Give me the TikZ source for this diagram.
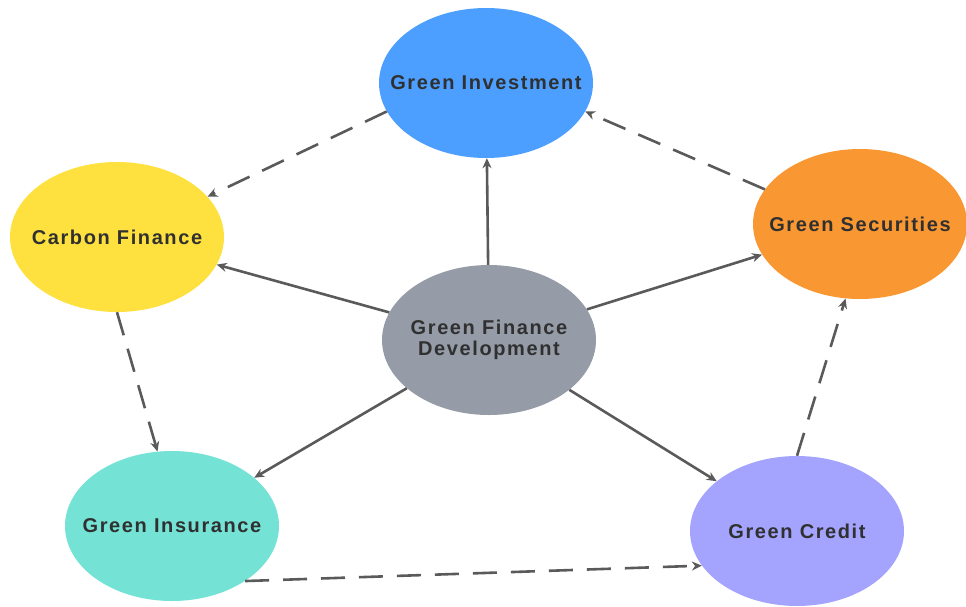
\documentclass[tikz,border=0pt]{standalone}
\usepackage{fontspec}
\newfontfamily\lblfont{Liberation Sans}[LetterSpace=8]
\usetikzlibrary{shapes.geometric}
\usetikzlibrary{arrows.meta}
\definecolor{investblue}{HTML}{4C9FFF}
\definecolor{carbonyellow}{HTML}{FEE03F}
\definecolor{securorange}{HTML}{F99732}
\definecolor{centergray}{HTML}{959CA8}
\definecolor{insurteal}{HTML}{74E3D6}
\definecolor{creditviolet}{HTML}{A4A4FF}
\definecolor{linkgray}{HTML}{5A5A5A}
\definecolor{textgray}{HTML}{303030}
\tikzset{
topic/.style={ % every coloured bubble, text set as a centred label
ellipse,
minimum width=214pt,
minimum height=150pt,
inner sep=0pt,
label={[topictext]center:#1}},
topictext/.style={
align=center,
text=textgray,
font=\lblfont\bfseries\fontsize{20}{21}\selectfont},
link/.style={ % solid spokes from the centre
draw=linkgray,
line width=2.6pt,
-{Stealth[length=10pt,width=9pt]}},
cycle/.style={ % dashed ring between neighbours
link,
dash pattern=on 24pt off 14pt}}

\begin{document}
\begin{tikzpicture}[x=1pt,y=-1pt]
\useasboundingbox (0,0) rectangle (966,606);
\node[topic={Green Investment}, fill=investblue] (inv) at (486,83) {};
\node[topic={Carbon Finance}, fill=carbonyellow] (carb) at (117,237) {};
\node[topic={Green Securities}, fill=securorange] (secu) at (860,224) {};
\node[topic={Green Finance\\Development}, fill=centergray] (gfd) at (489,340) {};
\node[topic={Green Insurance}, fill=insurteal] (insu) at (172,526) {};
\node[topic={Green Credit}, fill=creditviolet] (cred) at (797,531) {};
% spokes
\draw[link] (gfd) -- (inv);
\draw[link] (gfd) -- (carb);
\draw[link] (gfd) -- (secu);
\draw[link] (gfd) -- (insu);
\draw[link] (gfd) -- (cred);
% ring
\draw[cycle] (inv.196) -- (carb.24);
\draw[cycle] (carb.270) -- (insu.101);
\draw[cycle] (insu.-37) -- (cred.200);
\draw[cycle] (cred.90) -- (secu.259);
\draw[cycle] (secu.160) -- (inv.-16);
\end{tikzpicture}
\end{document}
